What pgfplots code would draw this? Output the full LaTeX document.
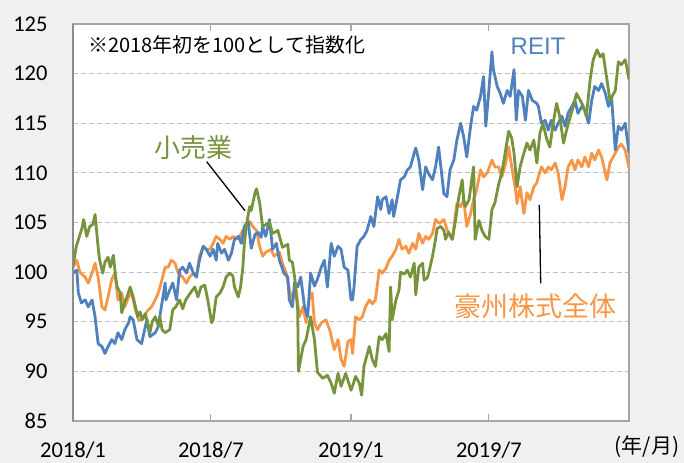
\documentclass[border=0pt]{standalone}
\usepackage{fontspec}
\setmainfont{Carlito}
\newfontfamily\jp{Noto Sans CJK JP}
\newfontfamily\lsans{Liberation Sans}
\usepackage{pgfplots}
\pgfplotsset{compat=1.18}
\definecolor{cBlue}{HTML}{4F81BD}
\definecolor{cGreen}{HTML}{77933C}
\definecolor{cOrange}{HTML}{F79646}
\definecolor{bgc}{HTML}{F0F0F0}
\definecolor{gridc}{HTML}{C0C0C0}
\definecolor{framec}{HTML}{A6A6A6}
\definecolor{leftc}{HTML}{8C8C8C}
\begin{document}
\begin{tikzpicture}[x=1bp,y=1bp]
\fill[bgc] (-73,-42) rectangle (611,421);
\begin{axis}[
  at={(0,0)}, anchor=south west,
  scale only axis, width=556bp, height=397bp,
  xmin=0, xmax=730, ymin=85, ymax=125,
  axis background/.style={fill=white},
  xtick={0,181,365,546}, xticklabels={2018/1,2018/7,2019/1,2019/7},
  ytick={85,90,...,125},
  ymajorgrids, major grid style={gridc, line width=1.2bp, dash pattern=on 5bp off 3bp},
  axis line style={framec, line width=1.5bp},
  xtick style={framec, line width=1.2bp},
  major tick length=7bp,
  tick align=inside,
  ytick style={draw=none},
  /pgf/number format/assume math mode=true,
  tick label style={font=\fontsize{22.5bp}{26bp}\selectfont, text=black},
  xticklabel style={anchor=north, yshift=-17bp},
  yticklabel style={anchor=east, xshift=-22bp},
  every axis plot/.append style={line width=2.8bp, line join=round},
]
\addplot[cOrange, mark=none] table {
0 100.5
5 101.2
9 100.0
16 99.5
20 98.9
25 99.9
29 100.9
33 99.5
38 96.5
42 96.2
46 97.5
51 99.3
55 99.9
59 97.2
64 97.9
68 96.5
73 97.5
77 97.9
81 96.5
86 95.2
90 95.2
95 95.8
99 96.2
103 96.5
108 97.2
112 97.9
116 99.0
121 100.5
125 100.5
129 101.2
134 100.9
138 99.9
144 99.5
149 98.9
153 99.5
158 99.9
162 99.5
166 101.6
171 102.6
175 102.3
180 102.3
184 102.9
188 103.6
193 103.3
197 102.9
201 103.6
206 103.3
210 103.6
214 103.3
219 103.6
223 104.2
228 104.6
232 105.1
236 104.6
241 104.2
245 102.6
249 101.6
253 102.0
260 102.3
264 101.6
271 102.0
275 100.9
280 99.9
284 98.2
288 97.2
293 98.2
297 95.5
302 96.5
306 94.9
310 97.2
314 97.9
317 94.9
321 94.2
326 94.9
332 95.2
337 94.2
343 92.2
348 93.2
352 91.2
356 90.5
361 93.0
365 93.2
367 91.8
371 95.5
376 95.2
380 95.5
384 96.5
389 97.2
393 96.8
397 97.2
402 100.2
406 99.9
411 100.4
415 101.2
419 101.6
424 102.3
428 103.3
432 102.3
437 102.6
441 101.9
446 102.9
450 102.3
454 103.9
459 102.9
463 103.6
467 103.3
472 103.9
476 105.3
481 104.9
487 105.3
491 104.3
498 103.3
504 106.9
509 106.6
513 107.3
517 104.6
522 105.9
526 107.3
530 108.3
535 110.3
539 109.6
544 110.0
550 111.3
554 110.6
559 110.6
563 109.6
568 110.9
572 112.6
576 110.6
581 108.3
583 106.9
587 108.6
592 105.9
596 108.0
600 107.3
605 108.6
609 109.0
611 109.6
615 110.6
620 110.0
624 110.6
628 110.3
633 111.0
637 110.0
642 107.3
646 108.6
650 110.6
655 111.3
659 110.3
663 111.3
668 110.6
672 111.6
677 110.6
681 112.0
685 111.3
690 112.3
694 111.6
701 109.3
705 111.0
712 112.0
716 112.6
720 112.9
725 112.3
730 110.5
};
\addplot[cBlue, mark=none] table {
0 99.9
5 100.2
7 97.9
11 96.9
16 97.2
20 96.5
25 97.2
29 95.5
33 92.8
38 92.5
42 91.8
46 92.5
51 93.2
55 92.8
59 93.9
64 93.2
68 94.2
73 94.9
75 95.5
79 95.2
84 93.2
90 92.8
97 95.2
101 93.5
108 93.9
112 94.5
116 96.5
121 98.9
122 97.2
127 98.2
131 98.9
136 97.2
140 100.2
144 100.5
149 99.9
153 100.9
158 99.9
162 99.5
166 101.2
171 102.6
175 102.3
180 101.6
184 102.3
188 101.2
190 102.9
195 101.9
199 102.3
204 101.2
208 101.9
212 103.3
217 103.6
221 102.9
225 104.6
230 105.1
234 102.4
239 103.8
243 104.0
247 103.5
249 104.6
253 103.6
258 105.3
262 102.3
267 102.9
271 101.2
277 99.9
282 99.5
284 97.2
288 96.5
291 99.0
295 98.5
299 99.5
304 96.5
308 95.5
312 99.9
317 98.6
321 99.3
326 100.5
330 101.2
334 98.5
339 102.9
343 101.6
348 102.6
352 102.3
356 100.5
361 100.2
365 97.2
367 97.2
369 98.5
373 102.6
378 103.3
382 103.6
386 104.2
391 105.6
395 104.6
400 107.6
404 106.3
406 107.3
411 107.6
415 105.9
419 107.3
421 105.6
426 107.6
430 109.3
435 109.6
439 110.3
443 110.6
448 112.0
450 112.5
454 111.3
459 108.3
463 110.6
467 109.9
472 109.3
476 110.6
480 112.6
483 110.6
487 107.9
491 107.6
495 110.3
500 111.3
504 113.3
509 115.0
513 113.6
517 111.6
522 114.7
526 116.7
530 116.3
535 117.7
539 119.7
542 114.7
546 118.3
550 122.2
552 120.4
557 118.7
561 118.0
565 117.0
570 118.3
574 117.7
579 120.4
582 115.3
585 118.3
590 117.7
594 115.3
598 118.3
603 117.3
609 117.0
611 116.7
615 115.0
620 115.3
624 114.3
628 115.3
633 114.3
637 115.0
642 115.7
646 114.7
650 116.0
655 116.7
659 117.3
663 116.0
668 116.7
672 116.3
677 115.0
681 117.3
685 118.7
690 118.3
694 119.0
699 118.0
703 116.7
707 117.7
712 112.3
716 114.7
720 114.3
725 115.0
730 112.0
};
\addplot[cGreen, mark=none] table {
0 100.5
4 102.5
8 103.5
12 104.5
14 105.3
18 103.6
22 104.6
26 104.8
29 105.8
33 102.5
35 101.2
39 99.9
42 101.0
46 101.5
49 100.5
53 101.7
56 99.5
58 98.5
62 97.9
64 95.9
68 97.0
71 97.5
75 98.5
79 97.5
82 96.5
85 95.5
88 96.0
91 95.2
95 95.8
101 93.9
104 95.0
108 95.5
112 94.6
114 95.5
117 94.2
121 93.9
127 94.2
131 96.2
135 96.5
140 97.2
144 96.3
148 97.2
155 98.0
160 98.5
164 97.5
168 98.5
173 98.7
177 97.2
182 94.9
184 95.2
188 97.5
193 97.9
197 98.5
201 99.5
206 99.9
210 99.6
212 98.5
217 97.5
220 98.5
223 100.5
225 102.9
228 104.9
232 106.6
234 106.2
239 108.0
241 108.4
245 107.0
249 104.6
258 105.0
262 103.9
269 104.2
275 102.5
282 102.8
284 101.2
288 101.0
291 99.5
295 96.2
296 90.0
302 92.5
306 93.2
312 95.5
317 93.2
321 89.9
328 89.3
334 89.6
339 88.8
343 87.8
348 89.8
352 88.5
358 89.8
365 88.1
367 88.5
371 89.5
376 88.8
379 87.6
382 90.5
389 92.5
393 91.2
397 90.5
402 93.5
406 93.2
411 93.8
415 92.0
417 98.5
419 95.2
424 97.2
428 98.2
430 100.0
435 99.8
439 100.2
443 99.5
448 100.9
450 97.7
454 100.5
459 100.9
461 99.2
465 99.4
467 99.9
472 101.6
476 103.3
478 104.4
483 104.6
487 104.2
489 103.3
493 104.0
498 103.3
502 105.1
506 107.3
511 109.3
513 107.3
515 106.6
520 107.3
524 109.6
526 110.6
528 103.3
533 105.2
537 104.2
541 103.6
546 103.3
550 106.3
554 107.0
559 108.9
563 110.0
568 112.3
572 114.2
576 113.5
579 112.0
583 108.6
587 110.6
592 112.0
596 113.0
600 112.3
605 113.3
609 111.0
613 114.0
617 115.0
622 113.4
626 112.6
631 115.3
635 117.0
639 115.7
644 113.0
648 114.3
653 115.7
657 116.7
661 118.0
666 117.3
670 116.7
674 115.7
679 119.4
683 121.4
688 122.4
692 121.7
696 122.0
701 119.4
705 117.3
712 118.3
716 121.2
720 120.9
725 121.4
727 120.7
730 119.4
};
\end{axis}
\draw[leftc, line width=2bp] (0,0) -- (0,397);
\node[anchor=west, inner sep=0, font=\jp\fontsize{20bp}{24bp}\selectfont] at (15,376) {※2018年初を100として指数化};
\node[inner sep=0, text=cBlue, font=\lsans\fontsize{24bp}{28bp}\selectfont] at (465,375) {REIT};
\node[inner sep=0, text=cGreen, font=\jp\fontsize{26bp}{30bp}\selectfont] at (120,273) {小売業};
\draw[black, line width=1.3bp] (133.7,259.3) -- (172,210.3);
\node[inner sep=0, text=cOrange, font=\jp\fontsize{27bp}{30bp}\selectfont] at (462,115) {豪州株式全体};
\draw[black, line width=1.3bp] (466.3,216) -- (467.7,137.7);
\node[inner sep=0, font=\jp\fontsize{21bp}{24bp}\selectfont] at (574,-26) {(年/月)};
\node[anchor=base, inner sep=0, font=\jp\fontsize{20bp}{24bp}\selectfont] at (259,425) {（2018年1月初～2019年12月末、日次）};
\pgfresetboundingbox
\path[use as bounding box] (-73,-42) rectangle (611,421);
\end{tikzpicture}
\end{document}
